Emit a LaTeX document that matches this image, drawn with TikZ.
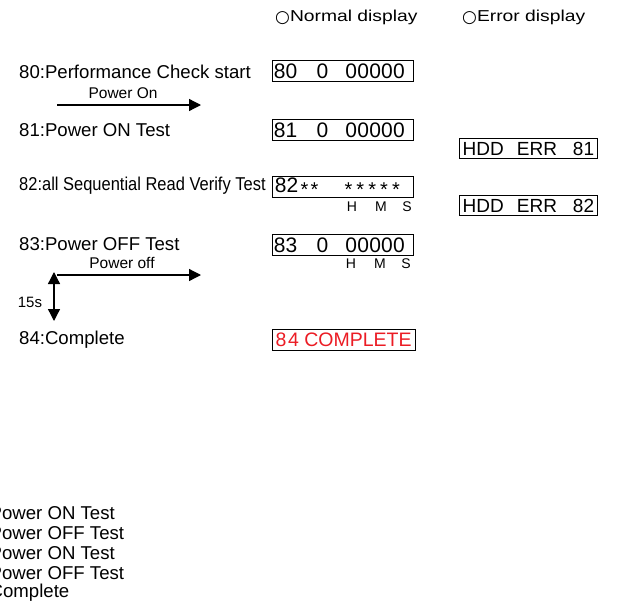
\documentclass[tikz,border=0pt]{standalone}
\usepackage{fontspec}
\setmainfont{Liberation Sans}
\newfontfamily\symfont{DejaVu Sans}
\usetikzlibrary{arrows.meta}
\definecolor{errred}{RGB}{235,28,36}
\tikzset{
  lbl/.style={anchor=west, inner sep=0pt, font=\fontsize{18.6}{22}\selectfont},
  hdr/.style={anchor=west, inner sep=0pt, font=\fontsize{15.8}{20}\selectfont},
  small/.style={inner sep=0pt, font=\fontsize{15.5}{18}\selectfont},
  hms/.style={inner sep=0pt, font=\fontsize{14}{16}\selectfont},
  disp/.style={draw, line width=1.4pt, anchor=north west, inner sep=0pt, font=\fontsize{21}{24}\selectfont},
  errbox/.style={draw, line width=1.4pt, anchor=north west, inner sep=0pt, font=\fontsize{19}{22}\selectfont},
  arr/.style={line width=1.3pt, -{Triangle[length=12pt,width=12pt]}},
  darr/.style={line width=1.3pt, {Triangle[length=12pt,width=12pt]}-{Triangle[length=12pt,width=12pt]}}
}
\newcommand{\dg}[1]{\makebox[11.9pt][c]{#1}}
\newcommand{\st}{\raisebox{-4pt}{\fontsize{20}{20}\selectfont *}}
\newcommand{\circmark}{{\symfont\fontsize{17}{17}\selectfont\raisebox{-1pt}{○}}}
\begin{document}
\begin{tikzpicture}[x=1pt,y=-1pt]
\useasboundingbox (0,0) rectangle (617,605);
\clip (0,0) rectangle (617,605);
% headers
\node[hdr] (hN) at (275,17) {\circmark\scalebox{1.22}[1]{Normal display}};
\node[hdr] (hE) at (462,17) {\circmark\scalebox{1.22}[1]{Error display}};
% left labels
\node[lbl] (t80) at (19,72) {80:Performance Check start};
\node[lbl] (t81) at (19,130) {81:Power ON Test};
\node[lbl] (t82) at (19,186) {\scalebox{0.886}[1]{82:all Sequential Read Verify Test}};
\node[lbl] (t83) at (19,244) {83:Power OFF Test};
\node[lbl] (t84) at (19,340) {84:Complete};
% normal displays
\node[disp, minimum width=141pt, minimum height=21pt] (b80) at (272,60)
  {\hbox to 141pt{\hspace{1pt}\dg{8}\dg{0}\hspace{19pt}\dg{0}\hspace{17pt}\dg{0}\dg{0}\dg{0}\dg{0}\dg{0}\hfil}};
\node[disp, minimum width=141pt, minimum height=21pt] (b81) at (272,119)
  {\hbox to 141pt{\hspace{1pt}\dg{8}\dg{1}\hspace{19pt}\dg{0}\hspace{17pt}\dg{0}\dg{0}\dg{0}\dg{0}\dg{0}\hfil}};
\node[disp, minimum width=141pt, minimum height=21pt] (b82) at (272,176)
  {\hbox to 141pt{\hspace{2pt}\dg{8}\dg{2}\hspace{1pt}\makebox[10pt]{\st}\makebox[10pt]{\st}\hspace{23pt}\dg{\st}\dg{\st}\dg{\st}\dg{\st}\dg{\st}\hfil}};
\node[disp, minimum width=141pt, minimum height=21pt] (b83) at (272,234)
  {\hbox to 141pt{\hspace{1pt}\dg{8}\dg{3}\hspace{19pt}\dg{0}\hspace{17pt}\dg{0}\dg{0}\dg{0}\dg{0}\dg{0}\hfil}};
\node[errbox, minimum width=143pt, minimum height=21pt, text=errred, font=\fontsize{19.5}{22}\selectfont] (b84) at (272,329)
  {\hbox to 143pt{\hspace{3pt}8\hspace{1.5pt}4 COMPLETE\hfil}};
% HMS labels
\node[hms] (h82) at (352,207) {H};
\node[hms] (m82) at (381,207) {M};
\node[hms] (s82) at (407,207) {S};
\node[hms] (h83) at (351,264) {H};
\node[hms] (m83) at (380,264) {M};
\node[hms] (s83) at (406,264) {S};
% error displays
\node[errbox, minimum width=138pt, minimum height=20pt] (e81) at (459,138)
  {\hbox to 138pt{\hspace{3pt}HDD\hspace{13pt}ERR\hspace{16pt}81\hfil}};
\node[errbox, minimum width=138pt, minimum height=20pt] (e82) at (459,195)
  {\hbox to 138pt{\hspace{3pt}HDD\hspace{13pt}ERR\hspace{16pt}82\hfil}};
% power on arrow
\coordinate (pa1) at (57,105);
\coordinate (pa2) at (201,105);
\draw[arr] (pa1) -- (pa2);
\node[small] (pon) at (123,93) {Power On};
% power off arrow
\coordinate (po1) at (57,275);
\coordinate (po2) at (201,275);
\draw[arr] (po1) -- (po2);
\node[small] (poff) at (122,263) {Power off};
% 15 s double arrow
\coordinate (v1) at (54,272);
\coordinate (v2) at (54,321);
\draw[darr] (v1) -- (v2);
\node[small, font=\fontsize{15}{18}\selectfont] (t15) at (30,302) {15s};
% bottom list
\node[lbl] (l1) at (-10.5,513) {Power ON Test};
\node[lbl] (l2) at (-10.5,533) {Power OFF Test};
\node[lbl] (l3) at (-10.5,553) {Power ON Test};
\node[lbl] (l4) at (-10.5,573) {Power OFF Test};
\node[lbl] (l5) at (-10.5,593) {Complete};
\end{tikzpicture}
\end{document}
